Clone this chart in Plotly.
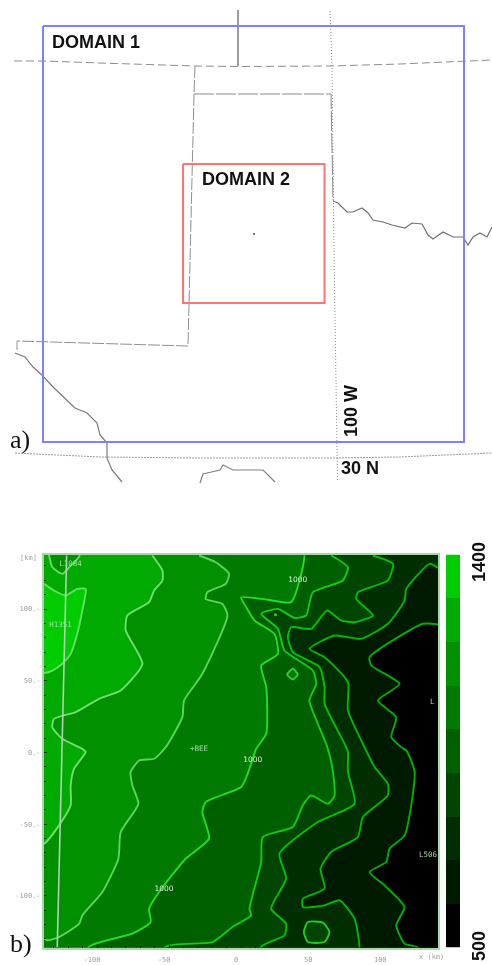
import plotly.graph_objects as go

# ---------- panel a: map, in the picture's own unitless map coordinates ----------
domain1_x = [43, 464, 464, 43, 43]
domain1_y = [26, 26, 442, 442, 26]
domain2_x = [183, 324.5, 324.5, 183, 183]
domain2_y = [164, 164, 303, 303, 164]
north_x = [14, 43, 100, 195, 238, 330, 400, 464, 492]
north_y = [61, 61, 63, 66, 66.5, 66, 64, 61, 60]
stub_x = [238, 238]
stub_y = [10, 66]
panhandle_x = [195, 194, 188, 17, 17]
panhandle_y = [66, 94, 346, 341, 352]
panhandle_top_x = [194, 331, 333]
panhandle_top_y = [94, 94, 200]
meridian_x = [330, 332, 334, 337, 337.5]
meridian_y = [11, 66, 250, 443, 480]
parallel_x = [15, 100, 200, 333, 400, 492]
parallel_y = [453, 457, 458, 458, 457, 453]
river_w_x = [15, 25, 33, 42, 53, 63, 75, 87, 97, 100, 107, 107, 112, 122]
river_w_y = [353, 357, 367, 375, 387, 397, 408, 413, 423, 435, 443, 458, 470, 482]
river_n_x = [333, 338, 347, 353, 362, 368, 373, 383, 392, 405, 412, 422, 428, 433, 443, 453, 463, 468, 473, 480, 487, 492]
river_n_y = [201, 203, 212, 212, 208, 213, 220, 222, 225, 228, 223, 224, 235, 239, 232, 237, 237, 245, 237, 233, 237, 227]
coast_x = [200, 203, 220, 223, 233, 263, 270, 275]
coast_y = [483, 474, 470, 465, 470, 470, 477, 482]
site_x = [254]
site_y = [234]

# ---------- panel b: terrain height contours, km from centre ----------
level_edges = [500, 600, 700, 800, 900, 1000, 1100, 1200, 1300, 1400]
x_ticks = [-100, -50, 0, 50, 100]
x_tick_labels = ["-100", "-50", "0", "50", "100"]
y_ticks = [-100, -50, 0, 50, 100]
y_tick_labels = ["-100.-", "-50.-", "0.-", "50.-", "100.-"]

high_x = [-135.4, -128.5, -120.4, -112.3, -106.5, -108.8, -112.3, -116.9, -122.7, -129.6, -135.4]
high_y = [117.5, 112.9, 109.4, 114, 114, 99, 82.7, 68.7, 61.8, 57.1, 55.3]
corner_x = [-132, -129.6, -122.7, -116.9, -111]
corner_y = [138, 129.1, 124.5, 130.3, 136.6]
c1200_x = [-60.2, -53.2, -53.2, -59, -62.5, -77.6, -78.7, -67.1, -82.2, -97.2, -113.4, -128.5, -129.6, -122.7, -108.8, -106.5, -114.6, -116.9, -116.9, -125, -135.4]
c1200_y = [137.3, 126.8, 119.9, 112.9, 104.8, 95.5, 85, 61.8, 43.2, 37.4, 28.1, 23.4, 17.6, 9.5, 2.5, 0.3, -11.4, -23, -36.9, -50.9, -63.6]
c1100_x = [-27.8, -16.2, -7, -9.3, -22, -23.2, -11.6, -8.1, -25.5, -38.2, -39.4, -50.9, -59, -69.4, -75.3, -74.1, -69.9, -82.2, -83.8, -94.9, -108.8, -111, -125, -133, -135.4]
c1100_y = [137.3, 132.6, 124.5, 117.5, 111.7, 107, 103.6, 95.5, 54.8, 36.2, 24.6, 3.7, -4.4, -5.6, -13.7, -23, -35.8, -55.5, -74.1, -97.3, -113.6, -119.4, -128.7, -131, -129.8]
c1000_x = [45.4, 44.2, 36.1, 19.9, 1.4, 4.9, 10.7, 24.5, 26.9, 15.3, 18.8, 18.8, 11.8, 6, 1.4, -23.2, -25.5, -20.9, -37.1, -55.6, -62.5, -61.4, -74.1, -104.2]
c1000_y = [137.3, 129.1, 104.8, 106.4, 108.2, 101.3, 92, 82.7, 68.7, 60.6, 45.5, 13, 2.5, -14.8, -24.1, -34.6, -41.6, -60.1, -74.1, -97.3, -109, -118.2, -126.4, -135.6]
c900_x = [63.9, 75.5, 72, 51.2, 46.5, 38.4, 26.9, 15.3, 26.9, 31.5, 51.2, 53.5, 48.8, 60.4, 64.4, 66.2, 61.6, 50, 44.2, 37.3, 16.4, 15.3, 7.2, 8.3, 1.4, -4.6, -18.5, -50.9]
c900_y = [137.3, 129.1, 119.9, 111.7, 95.5, 93.8, 100.1, 96.6, 86.2, 71.1, 57.1, 47.8, 36.2, 6, -9, -30, -35.8, -30, -36.9, -52, -59, -76.4, -109, -113.6, -118.2, -121.7, -132.2, -135.6]
c800_x = [92.8, 106.7, 103.2, 82.4, 81.3, 92.8, 80.1, 70.8, 61.1, 50, 36.1, 33.8, 37.3, 55.8, 59.3, 59.3, 73.2, 75.5, 75.5, 80.1, 54.6, 28, 32.6, 22.2, 32.6, 31.5, 15.3]
c800_y = [137.3, 131.5, 119.9, 111.7, 107, 95.5, 90.8, 92, 99, 86.2, 87.3, 80.4, 69.9, 59.5, 45.5, 33.9, 6, 0.3, -13.7, -35.8, -48.5, -70.6, -88, -109, -119.4, -127.5, -135.6]
c700_x = [138, 132.2, 116, 114.8, 103.2, 84.7, 66.2, 48.8, 59.3, 75.5, 75.5, 87, 94, 103.2, 103.2, 85.9, 82.4, 63.9, 56.5, 59.3, 44.2, 44.2, 59.3, 69.7, 80.1, 83.6]
c700_y = [128.7, 131.5, 114, 105.9, 89.7, 79.2, 81.5, 72.2, 66.4, 49, 29.3, 3.7, -10.2, -21.8, -30, -45, -59, -69.4, -81, -95, -102, -107.8, -106.6, -103.1, -115.9, -135.6]
c600_x = [138, 127.6, 90.5, 91.7, 111.4, 96.3, 109, 105.6, 112.5, 116, 121.8, 114.8, 104.4, 102.1, 90.5, 100.9, 114.8, 109, 114.8, 124]
c600_y = [89.2, 89.7, 66.4, 60.6, 47.8, 36.2, 24.6, 10.7, 3.7, 1.4, -13.7, -57.8, -67.1, -76.4, -83.4, -92.7, -107.8, -120.5, -133.3, -136]
diamond_x = [37.3, 40.7, 37.3, 33.3, 37.3]
diamond_y = [58.3, 54.3, 50.9, 54.3, 58.3]
loop_x = [47.7, 58.1, 62.7, 59.3, 47.7, 44.9, 47.7]
loop_y = [-118.2, -118.7, -125.2, -132.2, -132.2, -125.2, -118.2]
road_x = [-119.7, -121.6, -123.2, -126.2]
road_y = [137.3, 61.8, 3.7, -135.6]
peak_x = [25.2]
peak_y = [96]
label_x = [-52.1, 9.5, 40.7]
label_y = [-95, -5.6, 119.9]
label_text = ["1000", "1000", "1000"]
mark_x = [-27.8, -117, -124, 134, 131]
mark_y = [2.1, 131.5, 88.5, 35, -71.8]
mark_text = ["+BEE", "L1084", "H1351", "L", "L506"]

DX = -1.4   # digitising offset of the km origin
XL, XR, YB, YT = -135.4 + DX, 138 + DX, -136, 138
OL, OR, OB, OT = XL - 25, XR + 25, YB - 25, YT + 25   # closure points, outside the clipped plot

BAND = {500: "#000000", 600: "#001a00", 700: "#002e00", 800: "#004600", 900: "#006000",
        1000: "#007a00", 1100: "#009000", 1200: "#00aa00", 1300: "#00cc00"}

fig = go.Figure()

def map_line(x, y, color, width=1.0, dash="solid"):
    fig.add_trace(go.Scatter(x=x, y=y, mode="lines", line=dict(color=color, width=width, dash=dash),
                             xaxis="x", yaxis="y", hoverinfo="skip", showlegend=False))

map_line(north_x, north_y, "#8c8c8c", 1, "8px,4px")
map_line(stub_x, stub_y, "#5a5a5a", 1.2)
map_line(panhandle_x, panhandle_y, "#909090", 1, "12px,2px")
map_line(panhandle_top_x, panhandle_top_y, "#8a8a8a", 1, "20px,2px")
map_line(meridian_x, meridian_y, "#8a8a8a", 1, "1px,2px")
map_line(parallel_x, parallel_y, "#9a9a9a", 1, "2px,1px")
map_line(river_w_x, river_w_y, "#7a7a7a", 1.2)
map_line(river_n_x, river_n_y, "#707070", 1.2)
map_line(coast_x, coast_y, "#808080", 1.2)
map_line(domain1_x, domain1_y, "#8080ff", 2)
map_line(domain2_x, domain2_y, "#ff7575", 2)
fig.add_trace(go.Scatter(x=site_x, y=site_y, mode="markers", marker=dict(color="#444444", size=2),
                         xaxis="x", yaxis="y", hoverinfo="skip", showlegend=False))

def sx(values):
    return [v + DX for v in values]

def band(x, y, level, close_x, close_y, line):
    fig.add_trace(go.Scatter(x=sx(x) + close_x, y=y + close_y, mode="lines", fill="toself",
                             fillcolor=BAND[level],
                             line=dict(color=line, width=1.9, shape="spline", smoothing=0.55, simplify=False),
                             xaxis="x2", yaxis="y2", hoverinfo="skip", showlegend=False))

# base band, then each band painted over the part of the plot on its low side
fig.add_trace(go.Scatter(x=[OL, OR, OR, OL, OL], y=[OB, OB, OT, OT, OB], mode="lines", fill="toself",
                         fillcolor=BAND[1200], line=dict(width=0), xaxis="x2", yaxis="y2",
                         hoverinfo="skip", showlegend=False))
band(high_x, high_y, 1300, [OL, OL], [55.3, 117.5], "#66dd66")
band(corner_x, corner_y, 1100, [-111 + DX, -132 + DX], [OT, OT], "#66dd66")
band(c1200_x, c1200_y, 1100, [OL, OL, OR, OR, -60.2 + DX], [-63.6, OB, OB, OT, OT], "#70dd70")
band(c1100_x, c1100_y, 1000, [OL, OL, OR, OR, -27.8 + DX], [-129.8, OB, OB, OT, OT], "#55d855")
band(c1000_x, c1000_y, 900, [-104.2 + DX, OR, OR, 45.4 + DX], [OB, OB, OT, OT], "#22dd22")
band(c900_x, c900_y, 800, [-50.9 + DX, OR, OR, 63.9 + DX], [OB, OB, OT, OT], "#11cc11")
band(c800_x, c800_y, 700, [15.3 + DX, OR, OR, 92.8 + DX], [OB, OB, OT, OT], "#00c000")
band(c700_x, c700_y, 600, [83.6 + DX, OR, OR], [OB, OB, 128.7], "#00b800")
band(c600_x, c600_y, 500, [124 + DX, OR, OR], [OB, OB, 89.2], "#00b000")
band(diamond_x, diamond_y, 1000, [], [], "#33cc33")
band(loop_x, loop_y, 800, [], [], "#22cc22")

fig.add_trace(go.Scatter(x=sx(road_x), y=road_y, mode="lines", line=dict(color="#b4d0b4", width=1.6),
                         xaxis="x2", yaxis="y2", hoverinfo="skip", showlegend=False))
fig.add_trace(go.Scatter(x=sx(peak_x), y=peak_y, mode="markers", marker=dict(color="#33cc33", size=3),
                         xaxis="x2", yaxis="y2", hoverinfo="skip", showlegend=False))
fig.add_trace(go.Scatter(x=sx(label_x), y=label_y, mode="text", text=label_text,
                         textfont=dict(color="#e4ece4", size=7.5, family="DejaVu Sans"),
                         xaxis="x2", yaxis="y2", hoverinfo="skip", showlegend=False))
fig.add_trace(go.Scatter(x=sx(mark_x), y=mark_y, mode="text", text=mark_text,
                         textfont=dict(color="#a8d8a8", size=7.5, family="DejaVu Sans Mono"),
                         xaxis="x2", yaxis="y2", hoverinfo="skip", showlegend=False))

fig.add_trace(go.Heatmap(x=[0], y=[(a + b) / 2 for a, b in zip(level_edges[:-1], level_edges[1:])],
                         z=[[k] for k in level_edges[:-1]],
                         colorscale=[[i / 8, BAND[k]] for i, k in enumerate(level_edges[:-1])],
                         showscale=False, xaxis="x3", yaxis="y3", hoverinfo="skip"))

W, H = 492, 965
PB, PT = 947.5, 554.5
tick_font = dict(size=7, color="#a0a0a0", family="DejaVu Sans Mono")
fig.update_layout(
    width=W, height=H, autosize=False, margin=dict(l=0, r=0, t=0, b=0),
    paper_bgcolor="white", plot_bgcolor="rgba(0,0,0,0)", showlegend=False,
    xaxis=dict(domain=[0, 1], range=[0, 492], visible=False, fixedrange=True, automargin=False),
    yaxis=dict(domain=[1 - 490 / H, 1], range=[490, 0], visible=False, fixedrange=True, automargin=False),
    xaxis2=dict(domain=[44 / W, 438 / W], range=[XL, XR], tickvals=x_ticks, ticktext=x_tick_labels,
                ticks="inside", ticklen=3, tickcolor="#003300", showgrid=False, zeroline=False,
                showline=True, linecolor="#a8d8a8", linewidth=2, mirror=True, anchor="y2", automargin=False,
                tickfont=tick_font, ticklabelstandoff=4, ticklabelshift=-5,
                minor=dict(dtick=10, ticks="inside", ticklen=2, tickcolor="#003300")),
    yaxis2=dict(domain=[(H - PB) / H, (H - PT) / H], range=[YB, YT], tickvals=y_ticks, ticktext=y_tick_labels,
                ticks="inside", ticklen=3, tickcolor="#003300", showgrid=False, zeroline=False,
                showline=True, linecolor="#a8d8a8", linewidth=2, mirror=True, anchor="x2", automargin=False,
                tickfont=tick_font, minor=dict(dtick=10, ticks="inside", ticklen=2, tickcolor="#003300")),
    xaxis3=dict(domain=[446 / W, 460 / W], visible=False, fixedrange=True, anchor="y3", automargin=False),
    yaxis3=dict(domain=[(H - PB) / H, (H - PT) / H], range=[500, 1400], visible=False, fixedrange=True, anchor="x3", automargin=False),
)

def note(text, px, py, size, family="Liberation Sans", bold=True, angle=0, color="#111111"):
    fig.add_annotation(text=f"<b>{text}</b>" if bold else text, x=px / W, y=(H - py) / H, xref="paper", yref="paper",
                       xanchor="center", yanchor="middle", showarrow=False, textangle=angle,
                       font=dict(size=size, family=family, color=color))

note("DOMAIN 1", 96, 42, 18)
note("DOMAIN 2", 246, 179, 18)
note("100 W", 351, 411, 18, angle=-90)
note("30 N", 360, 468, 18)
note("a)", 20, 440, 26, family="Liberation Serif", bold=False)
note("1400", 479, 562, 18, angle=-90)
note("500", 479, 946, 18, angle=-90)
note("b)", 21, 943, 26, family="Liberation Serif", bold=False)
note("[km]", 28, 558, 7, family="DejaVu Sans Mono", bold=False, color="#a0a0a0")
note("x (km)", 431, 957, 7, family="DejaVu Sans Mono", bold=False, color="#a0a0a0")

fig.write_html("out.html", config=dict(displayModeBar=False),
               post_script="document.body.style.margin='0';document.querySelector('.plotly-graph-div').style.filter='blur(0.7px)';")
